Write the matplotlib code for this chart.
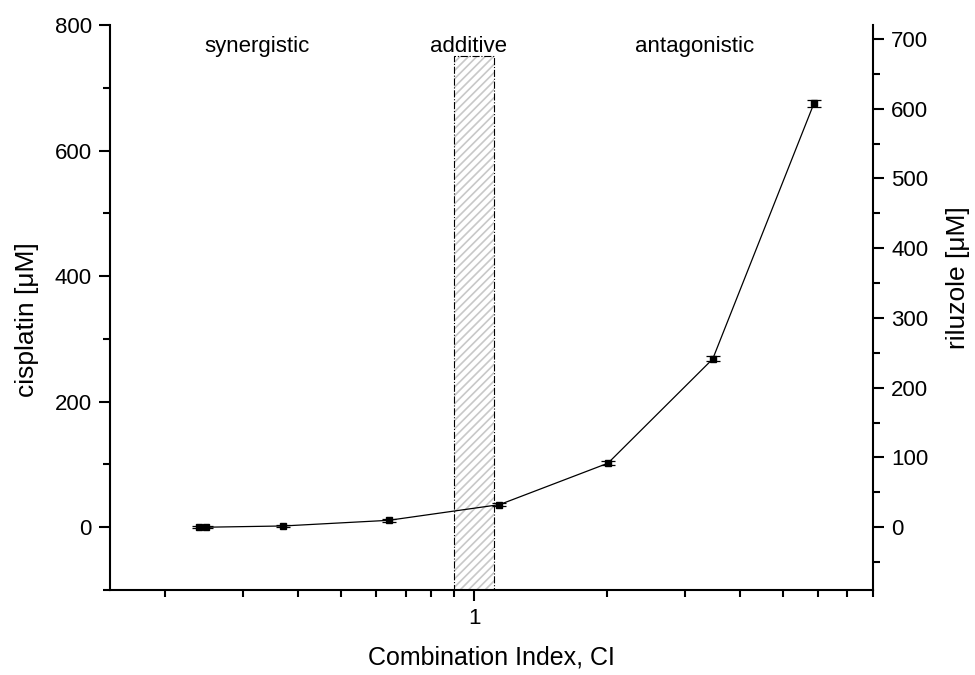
import matplotlib
matplotlib.use("Agg")
import matplotlib.pyplot as plt
from matplotlib.ticker import FixedLocator, FixedFormatter, MultipleLocator, NullFormatter
from matplotlib.patches import Rectangle

plt.rcParams['font.family'] = ['Liberation Sans', 'DejaVu Sans']
plt.rcParams['hatch.color'] = '#c8c8c8'
plt.rcParams['hatch.linewidth'] = 1.2

# Combination index vs. cisplatin concentration
ci = [0.238, 0.247, 0.370, 0.641, 1.142, 2.01, 3.47, 5.88]
cisplatin = [0, 0, 2, 11, 36, 102, 268, 675]
cisplatin_err = [1.5, 1.5, 1.5, 2, 2, 3, 4, 6]

# Additive band and region captions
additive_lo, additive_hi, additive_top = 0.9, 1.11, 750
regions = ["synergistic", "additive", "antagonistic"]
region_x = [0.322, 0.972, 3.16]
region_y = 766

# riluzole scale relative to cisplatin
riluzole_ratio = 0.9

W, H = 975, 675
fig = plt.figure(figsize=(W / 100, H / 100), dpi=100)
ax = fig.add_axes([110 / W, 1 - 590 / H, (873 - 110) / W, (590 - 25) / H])

ax.set_xscale('log')
ax.set_xlim(0.15, 8)
ax.set_ylim(-100, 800)

ax.add_patch(Rectangle((additive_lo, -100), additive_hi - additive_lo, additive_top + 100,
                       facecolor='none', edgecolor='#c8c8c8', hatch='////', linewidth=0, zorder=1))
ax.add_patch(Rectangle((additive_lo, -100), additive_hi - additive_lo, additive_top + 100,
                       facecolor='none', edgecolor='black', linestyle='-.', linewidth=0.8, zorder=2))

ax.errorbar(ci, cisplatin, yerr=cisplatin_err, color='black', linewidth=0.9,
            marker='s', markersize=4.5, capsize=5, elinewidth=0.9, capthick=0.9, zorder=3)

for label, x in zip(regions, region_x):
    ax.text(x, region_y, label, ha='center', va='center', fontsize=16)

for side in ['top', 'right']:
    ax.spines[side].set_visible(False)
for side in ['left', 'bottom']:
    ax.spines[side].set_linewidth(1.5)

ax.xaxis.set_major_locator(FixedLocator([1]))
ax.xaxis.set_major_formatter(FixedFormatter(["1"]))
ax.xaxis.set_minor_locator(FixedLocator([0.2, 0.3, 0.4, 0.5, 0.6, 0.7, 0.8, 0.9,
                                         2, 3, 4, 5, 6, 7, 8]))
ax.xaxis.set_minor_formatter(NullFormatter())
ax.yaxis.set_major_locator(MultipleLocator(200))
ax.yaxis.set_minor_locator(MultipleLocator(100))

ax.tick_params(which='major', direction='out', length=8, width=1.5, labelsize=16, pad=5)
ax.tick_params(which='minor', direction='out', length=5, width=1.5)

ax.set_xlabel("Combination Index, CI", fontsize=18, labelpad=12)

ax2 = ax.twinx()
ax2.set_ylim(-100 * riluzole_ratio, 800 * riluzole_ratio)
for side in ['top', 'left', 'bottom']:
    ax2.spines[side].set_visible(False)
ax2.spines['right'].set_linewidth(1.5)
ax2.yaxis.set_major_locator(MultipleLocator(100))
ax2.yaxis.set_minor_locator(MultipleLocator(50))
ax2.tick_params(which='major', direction='out', length=8, width=1.5, labelsize=16, pad=5)
ax2.tick_params(which='minor', direction='out', length=5, width=1.5)

# axis titles placed in figure pixels
fig.text(27 / W, 1 - 320 / H, "cisplatin [μM]", rotation=90, ha='center', va='center', fontsize=19)
fig.text(958 / W, 1 - 278 / H, "riluzole [μM]", rotation=90, ha='center', va='center', fontsize=19)

fig.savefig("out.png", dpi=100)
